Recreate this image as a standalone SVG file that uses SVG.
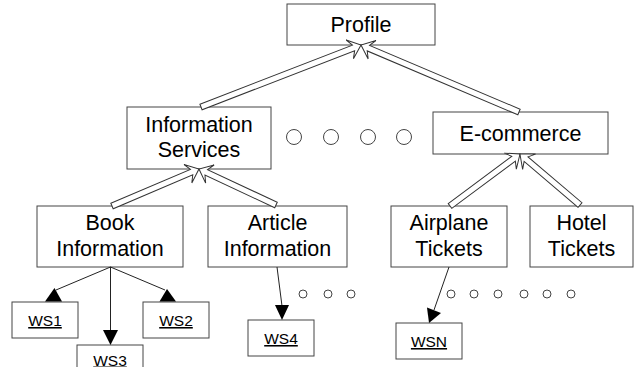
<svg xmlns="http://www.w3.org/2000/svg" width="634" height="367" viewBox="0 0 634 367">
<style>
.box{fill:#fff;stroke:#444;stroke-width:1}
.t{font-family:"Liberation Sans",Arial,sans-serif;font-size:21.5px;fill:#000;text-anchor:middle}
.ws{font-family:"Liberation Sans",Arial,sans-serif;font-size:15.5px;fill:#000;text-anchor:middle;text-decoration:underline}
.dot{fill:#fff;stroke:#444;stroke-width:1}
.ln{stroke:#222;stroke-width:1;fill:none}
.head{fill:#000;stroke:none}
.blk{fill:#fff;stroke:#333;stroke-width:1;stroke-linejoin:miter}
</style>
<rect width="634" height="367" fill="#fff"/>
<g id="profile"><rect class="box" x="287" y="4" width="148" height="41"/><text class="t" x="361" y="32">Profile</text></g>
<g id="info-services"><rect class="box" x="127" y="107" width="144" height="62"/><text class="t" x="199" y="132">Information</text><text class="t" x="199" y="157">Services</text></g>
<g id="ecommerce"><rect class="box" x="433" y="112" width="175" height="42"/><text class="t" x="520.5" y="140.5">E-commerce</text></g>
<g id="book-info"><rect class="box" x="37" y="206" width="146" height="61"/><text class="t" x="110" y="230">Book</text><text class="t" x="110" y="256">Information</text></g>
<g id="article-info"><rect class="box" x="208" y="206" width="139" height="61"/><text class="t" x="277.5" y="230">Article</text><text class="t" x="277.5" y="256">Information</text></g>
<g id="airplane"><rect class="box" x="391" y="206" width="116" height="61"/><text class="t" x="449" y="230">Airplane</text><text class="t" x="449" y="256">Tickets</text></g>
<g id="hotel"><rect class="box" x="530" y="206" width="103" height="61"/><text class="t" x="581.5" y="230">Hotel</text><text class="t" x="581.5" y="256">Tickets</text></g>
<g id="ws1"><rect class="box" x="12" y="302" width="66" height="36"/><text class="ws" x="45" y="326">WS1</text></g>
<g id="ws2"><rect class="box" x="143" y="302" width="66" height="36"/><text class="ws" x="176" y="326">WS2</text></g>
<g id="ws3"><rect class="box" x="77" y="345" width="66" height="36"/><text class="ws" x="110" y="365.5">WS3</text></g>
<g id="ws4"><rect class="box" x="248" y="320" width="66" height="36"/><text class="ws" x="281" y="344">WS4</text></g>
<g id="wsn"><rect class="box" x="396" y="323" width="66" height="36"/><text class="ws" x="429" y="347">WSN</text></g>
<g id="ellipsis-top"><circle class="dot" cx="294" cy="137" r="7.5"/><circle class="dot" cx="331" cy="137" r="7.5"/><circle class="dot" cx="368" cy="137" r="7.5"/><circle class="dot" cx="404" cy="137" r="7.5"/></g>
<g id="ellipsis-article"><circle class="dot" cx="303" cy="294" r="4"/><circle class="dot" cx="328" cy="294" r="4"/><circle class="dot" cx="351" cy="294" r="4"/></g>
<g id="ellipsis-airplane"><circle class="dot" cx="451" cy="294" r="4"/><circle class="dot" cx="474" cy="294" r="4"/><circle class="dot" cx="498" cy="294" r="4"/><circle class="dot" cx="524" cy="294" r="4"/><circle class="dot" cx="547" cy="294" r="4"/><circle class="dot" cx="571" cy="294" r="4"/></g>
<g id="connectors">
<polygon class="blk" transform="translate(201,107) rotate(-21.18)" points="0,-3 163.6,-3 159.6,-10 171.6,0 159.6,10 163.6,3 0,3"/>
<polygon class="blk" transform="translate(519,112) rotate(-157.03)" points="0,-3 163.6,-3 159.6,-10 171.6,0 159.6,10 163.6,3 0,3"/>
<polygon class="blk" transform="translate(112,206) rotate(-23.04)" points="0,-3 86.5,-3 82.5,-10 94.5,0 82.5,10 86.5,3 0,3"/>
<polygon class="blk" transform="translate(276,205) rotate(-154.94)" points="0,-3 77,-3 73,-10 85,0 73,10 77,3 0,3"/>
<polygon class="blk" transform="translate(450,206) rotate(-36.61)" points="0,-3 79.2,-3 75.2,-10 87.2,0 75.2,10 79.2,3 0,3"/>
<polygon class="blk" transform="translate(580,205) rotate(-139.64)" points="0,-3 70.8,-3 66.8,-10 78.8,0 66.8,10 70.8,3 0,3"/>
<line class="ln" x1="110.5" y1="267" x2="56" y2="290"/>
<polygon class="head" points="45,301.5 62,301.5 54.5,288"/>
<line class="ln" x1="110.5" y1="267" x2="165" y2="290"/>
<polygon class="head" points="159.5,301.5 176,301.5 167,289"/>
<line class="ln" x1="110.5" y1="267" x2="110.5" y2="331"/>
<polygon class="head" points="103,330 118,330 110.5,345"/>
<line class="ln" x1="277" y1="267" x2="282" y2="306"/>
<polygon class="head" points="275,305 289,305 282,320"/>
<line class="ln" x1="449" y1="267" x2="434" y2="310"/>
<polygon class="head" points="427,307.5 441,313 429,323"/>
</g>
</svg>
